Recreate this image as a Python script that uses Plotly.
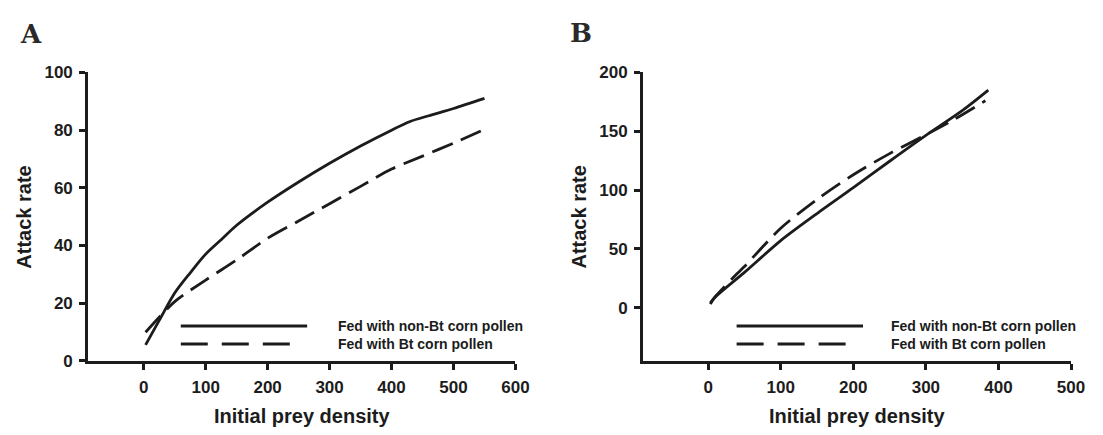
import plotly.graph_objects as go

# ---------------- data ----------------
# Panel A
a_nonbt_x = [3, 25, 50, 75, 100, 125, 150, 200, 250, 300, 350, 400, 430, 460, 500, 550]
a_nonbt_y = [5.5, 14, 23.5, 30.5, 37, 42, 47, 55, 62, 68.5, 74.5, 80, 83, 85, 87.5, 91]
a_bt_x = [3, 50, 100, 150, 200, 250, 300, 350, 400, 450, 500, 550]
a_bt_y = [9.9, 20.5, 28, 35, 42.5, 48.5, 54.5, 60.5, 66.5, 71, 75.5, 80.3]

# Panel B
b_nonbt_x = [3, 9, 50, 100, 150, 200, 250, 300, 350, 386]
b_nonbt_y = [3, 8.5, 30, 57, 80, 102, 124.5, 146.5, 167.5, 185]
b_bt_x = [3, 10, 40, 50, 100, 150, 200, 250, 300, 336, 382]
b_bt_y = [4, 9.5, 29, 35, 67.5, 92, 113, 131, 147, 159, 176]

a_xticks = [0, 100, 200, 300, 400, 500, 600]
a_yticks = [0, 20, 40, 60, 80, 100]
b_xticks = [0, 100, 200, 300, 400, 500]
b_yticks = [0, 50, 100, 150, 200]

series_names = ["Fed with non-Bt corn pollen", "Fed with Bt corn pollen"]
panel_labels = ["A", "B"]
x_title = "Initial prey density"
y_title = "Attack rate"

# ---------------- style ----------------
W, H = 1103, 435
INK = "#1c1c1c"
FONT = "Liberation Sans"
CURVE_W = 2.8
DASH = "22px,9px"

A_DOM = [81 / W, 514 / W]
B_DOM = [643 / W, 1076.7 / W]
Y_DOM = [1 - 359.5 / H, 1 - 58 / H]

fig = go.Figure()

fig.add_trace(go.Scatter(x=a_nonbt_x, y=a_nonbt_y, mode="lines", xaxis="x", yaxis="y",
                         line=dict(color=INK, width=CURVE_W, shape="spline", smoothing=0.8),
                         name=series_names[0], showlegend=False))
fig.add_trace(go.Scatter(x=a_bt_x, y=a_bt_y, mode="lines", xaxis="x", yaxis="y",
                         line=dict(color=INK, width=CURVE_W, dash=DASH, shape="spline", smoothing=0.8),
                         name=series_names[1], showlegend=False))
fig.add_trace(go.Scatter(x=b_nonbt_x, y=b_nonbt_y, mode="lines", xaxis="x2", yaxis="y2",
                         line=dict(color=INK, width=CURVE_W, shape="spline", smoothing=0.8),
                         name=series_names[0], showlegend=False))
fig.add_trace(go.Scatter(x=b_bt_x, y=b_bt_y, mode="lines", xaxis="x2", yaxis="y2",
                         line=dict(color=INK, width=CURVE_W, dash=DASH, shape="spline", smoothing=0.8),
                         name=series_names[1], showlegend=False))

tickfont = dict(family=FONT, size=17, color=INK, weight="bold")
axis_common = dict(showline=True, linecolor=INK, linewidth=2.5, ticks="outside",
                   ticklen=6, tickwidth=2.5, tickcolor=INK, showgrid=False,
                   zeroline=False, tickfont=tickfont, fixedrange=True, ticklabelstandoff=3)

fig.update_layout(
    width=W, height=H,
    margin=dict(l=0, r=0, t=0, b=0),
    paper_bgcolor="white", plot_bgcolor="white",
    showlegend=False,
    xaxis=dict(domain=A_DOM, range=[-90, 600], tickvals=a_xticks, anchor="y", **axis_common),
    yaxis=dict(domain=Y_DOM, range=[0, 100], tickvals=a_yticks, anchor="x", **axis_common),
    xaxis2=dict(domain=B_DOM, range=[-90, 500], tickvals=b_xticks, anchor="y2", **axis_common),
    yaxis2=dict(domain=Y_DOM, range=[-45.2, 200], tickvals=b_yticks, anchor="x2", **axis_common),
)

# legend drawn inside each panel
legend_geo = {
    "": dict(x0=0.2171, x1=0.5127, x1d=0.4734, xt=0.5800),
    "2": dict(x0=0.2190, x1=0.5142, x1d=0.4773, xt=0.5745),
}
ly = [0.1211, 0.0580]
shapes, annotations = [], []
for suf, g in legend_geo.items():
    xr, yr = f"x{suf} domain", f"y{suf} domain"
    shapes.append(dict(type="line", xref=xr, yref=yr, x0=g["x0"], x1=g["x1"], y0=ly[0], y1=ly[0],
                       line=dict(color=INK, width=3)))
    shapes.append(dict(type="line", xref=xr, yref=yr, x0=g["x0"], x1=g["x1d"], y0=ly[1], y1=ly[1],
                       line=dict(color=INK, width=3, dash="27px,14px")))
    for i, nm in enumerate(series_names):
        annotations.append(dict(xref=xr, yref=yr, x=g["xt"], y=ly[i], text=nm, showarrow=False,
                                xanchor="left", yanchor="middle",
                                font=dict(family=FONT, size=14, color=INK, weight="bold")))

# axis titles
title_font = dict(family=FONT, size=20, color=INK, weight="bold")
for dom, yx in [(A_DOM, 16 / W), (B_DOM, 578 / W)]:
    annotations.append(dict(xref="paper", yref="paper", x=(dom[0] + dom[1]) / 2, y=1 - 417 / H,
                            text=x_title, showarrow=False, xanchor="center", yanchor="middle",
                            font=title_font))
    annotations.append(dict(xref="paper", yref="paper", x=yx, y=1 - 209 / H, text=y_title,
                            textangle=-90, showarrow=False, xanchor="center", yanchor="middle",
                            font=title_font))

# panel letters
for lab, px, py in [(panel_labels[0], 23, 17.5), (panel_labels[1], 580, 17)]:
    annotations.append(dict(xref="paper", yref="paper", x=px / W, y=1 - py / H, text=lab,
                            showarrow=False, xanchor="center", yanchor="middle",
                            font=dict(family="DejaVu Serif", size=26, color="#2a2a2a", weight="bold")))

fig.update_layout(shapes=shapes, annotations=annotations)
fig.write_html("out.html")
